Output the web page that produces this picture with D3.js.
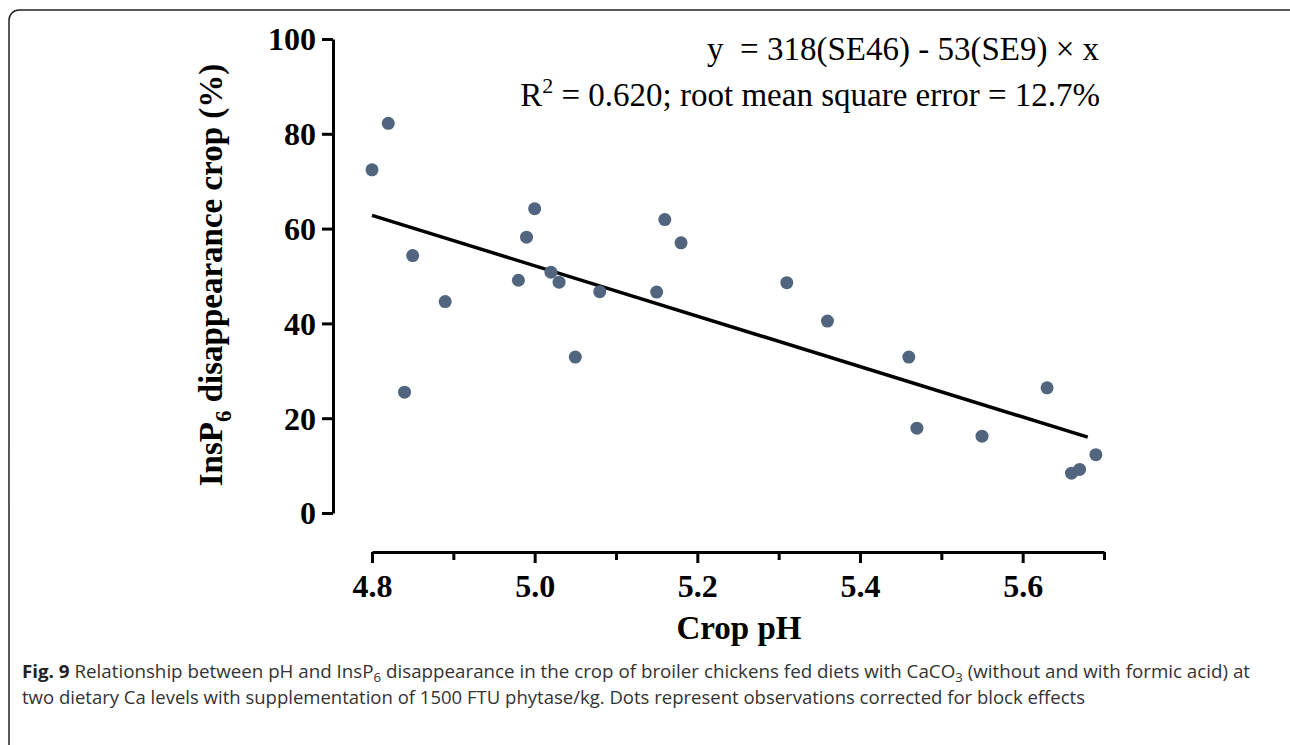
<!DOCTYPE html>
<html>
<head>
<meta charset="utf-8">
<script src="https://cdn.jsdelivr.net/npm/d3@7"></script>
<style>
  body { margin: 0; background: #fff; }
  svg { display: block; }
</style>
</head>
<body>
<svg id="chart"></svg>
<script>
// data
const cropPH = [4.80, 4.82, 4.85, 4.84, 4.89, 4.98, 4.99, 5.00, 5.02, 5.03, 5.05, 5.08,
  5.15, 5.16, 5.18, 5.31, 5.36, 5.46, 5.47, 5.55, 5.63, 5.66, 5.67, 5.69];
const disappearance = [72.4, 82.2, 54.3, 25.5, 44.6, 49.1, 58.2, 64.2, 50.8, 48.7, 32.9, 46.7,
  46.6, 61.9, 57.0, 48.6, 40.5, 32.9, 17.9, 16.2, 26.4, 8.4, 9.2, 12.3];
const fitX = [4.80, 5.68];
const fitY = [62.8, 16.0];
const xTicks = [4.8, 4.9, 5.0, 5.1, 5.2, 5.3, 5.4, 5.5, 5.6, 5.7];
const xLabels = [4.8, 5.0, 5.2, 5.4, 5.6];
const yTicks = [0, 20, 40, 60, 80, 100];

const W = 1290, H = 745;
const svg = d3.select("#chart").attr("width", W).attr("height", H);

// frame around the figure
svg.append("rect")
  .attr("x", 9).attr("y", 10)
  .attr("width", 1290).attr("height", 745)
  .attr("rx", 10)
  .attr("fill", "none")
  .attr("stroke", "#222")
  .attr("stroke-width", 1.5);

const x = d3.scaleLinear().domain([4.8, 5.7]).range([372, 1104]);
const y = d3.scaleLinear().domain([0, 100]).range([513, 39]);

const serif = "'Liberation Serif', 'Times New Roman', serif";
const isLabel = d => xLabels.some(v => Math.abs(v - d) < 1e-9);

// Y axis
const yAxis = svg.append("g")
  .attr("transform", "translate(333,0)")
  .call(d3.axisLeft(y).tickValues(yTicks).tickSize(11).tickSizeOuter(0).tickPadding(6));
yAxis.select(".domain").attr("stroke", "#000").attr("stroke-width", 3);
yAxis.selectAll(".tick line").attr("stroke", "#000").attr("stroke-width", 3);
yAxis.selectAll(".tick text")
  .attr("fill", "#000")
  .style("font-family", serif)
  .style("font-weight", "bold")
  .style("font-size", "32px")
  .attr("dy", "0.34em");

// X axis with minor ticks
const xg = svg.append("g").attr("transform", "translate(0,552)");
xg.call(d3.axisBottom(x).tickValues(xTicks).tickSize(10).tickSizeOuter(0).tickPadding(12)
  .tickFormat(d => isLabel(d) ? d3.format(".1f")(d) : ""));
xg.select(".domain").attr("stroke", "#000").attr("stroke-width", 3);
xg.selectAll(".tick line")
  .attr("stroke", "#000").attr("stroke-width", 3)
  .attr("y2", d => isLabel(d) ? 11 : 8);
xg.selectAll(".tick text")
  .attr("fill", "#000")
  .style("font-family", serif)
  .style("font-weight", "bold")
  .style("font-size", "32px");

// axis titles
svg.append("text")
  .attr("x", 739).attr("y", 639)
  .attr("text-anchor", "middle")
  .style("font-family", serif).style("font-weight", "bold").style("font-size", "33px")
  .text("Crop pH");

const ylab = svg.append("text")
  .attr("transform", "translate(222,275) rotate(-90)")
  .attr("text-anchor", "middle")
  .style("font-family", serif).style("font-weight", "bold").style("font-size", "33px");
ylab.append("tspan").text("InsP");
ylab.append("tspan").attr("dy", 9).style("font-size", "23px").text("6");
ylab.append("tspan").attr("dy", -9).text(" disappearance crop (%)");

// regression line
svg.append("line")
  .attr("x1", x(fitX[0])).attr("y1", y(fitY[0]))
  .attr("x2", x(fitX[1])).attr("y2", y(fitY[1]))
  .attr("stroke", "#000").attr("stroke-width", 3.5);

// observations
svg.append("g").selectAll("circle")
  .data(cropPH)
  .join("circle")
  .attr("cx", d => x(d))
  .attr("cy", (d, i) => y(disappearance[i]))
  .attr("r", 6.5)
  .attr("fill", "#52657f");

// equation
svg.append("text")
  .attr("x", 1099).attr("y", 60)
  .attr("text-anchor", "end")
  .style("white-space", "pre")
  .style("font-family", serif).style("font-size", "33px")
  .text("y  = 318(SE46) - 53(SE9) \u00d7 x");

const r2 = svg.append("text")
  .attr("x", 1100).attr("y", 106)
  .attr("text-anchor", "end")
  .style("font-family", serif).style("font-size", "33px");
r2.append("tspan").text("R");
r2.append("tspan").attr("dy", -13).style("font-size", "22px").text("2");
r2.append("tspan").attr("dy", 13).text(" = 0.620; root mean square error = 12.7%");

// caption
const sans = "'Open Sans', 'Noto Sans', sans-serif";
const c1 = svg.append("text")
  .attr("x", 22).attr("y", 678)
  .attr("textLength", 1228).attr("lengthAdjust", "spacingAndGlyphs")
  .style("font-family", sans).style("font-size", "18.5px").attr("fill", "#333");
c1.append("tspan").style("font-weight", "bold").attr("fill", "#222").text("Fig. 9");
c1.append("tspan").text(" Relationship between pH and InsP");
c1.append("tspan").attr("dy", 4).style("font-size", "13px").text("6");
c1.append("tspan").attr("dy", -4).text(" disappearance in the crop of broiler chickens fed diets with CaCO");
c1.append("tspan").attr("dy", 4).style("font-size", "13px").text("3");
c1.append("tspan").attr("dy", -4).text(" (without and with formic acid) at");

svg.append("text")
  .attr("x", 22).attr("y", 704)
  .attr("textLength", 1063).attr("lengthAdjust", "spacingAndGlyphs")
  .style("font-family", sans).style("font-size", "18.5px").attr("fill", "#333")
  .text("two dietary Ca levels with supplementation of 1500 FTU phytase/kg. Dots represent observations corrected for block effects");
</script>
</body>
</html>
